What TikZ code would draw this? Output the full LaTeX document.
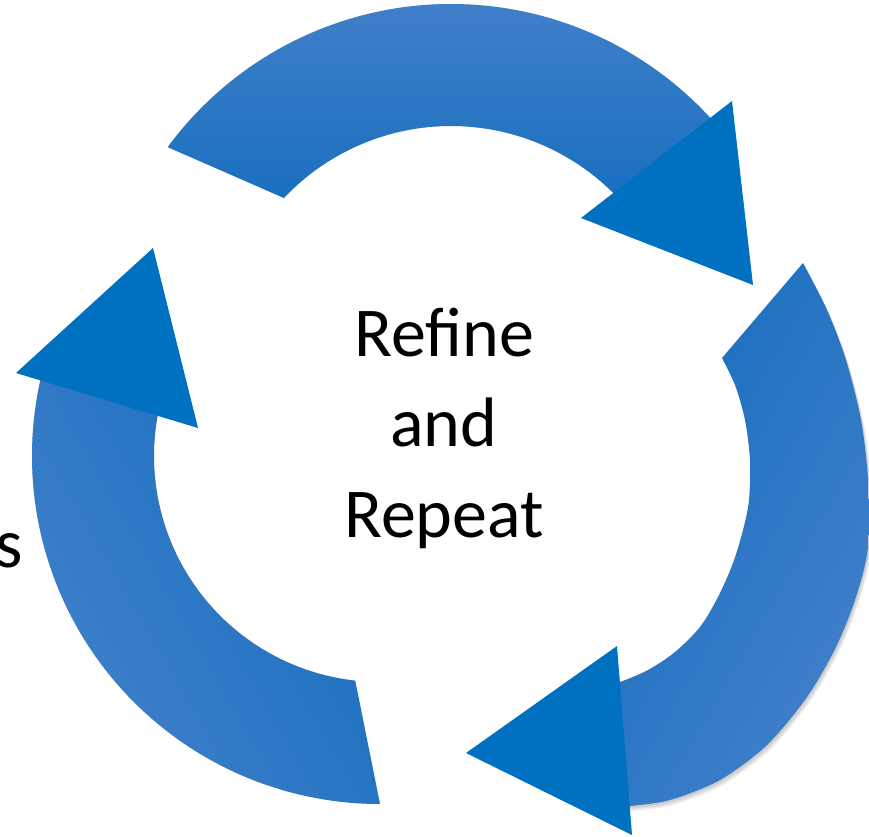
\documentclass[tikz,border=0pt]{standalone}
\usepackage{fontspec}
\setmainfont{Carlito}
\usetikzlibrary{calc}
\definecolor{bandlight}{RGB}{66,128,202}
\definecolor{banddark}{RGB}{22,110,190}
\definecolor{headblue}{RGB}{0,112,192}
\newcommand{\toparrowpath}{($(ct)+(143.6:352)$) arc[start angle=143.6, end angle=38, radius=352]
  -- ($(ct)+(38:230)$) arc[start angle=38, end angle=136.6, radius=230] -- cycle}
\newcommand{\rightarrowpath}{plot[smooth] coordinates {(803,573) (827,526) (846,476) (861,416) (868,356) (868,289) (856,239) (836,189) (807,139) (767,91) (720,56) (670,36) (630,30) (600,28)}
  -- plot[smooth] coordinates {(600,148) (620,154) (648,166) (675,184) (700,209) (718,239) (733,273) (743,306) (749,336) (750,376) (745,416) (735,451) (722,478)} -- cycle}
\newcommand{\leftarrowpath}{($(cl)+(270:348)$) arc[start angle=270, end angle=164, radius=348]
  -- ($(cl)+(164:226)$) arc[start angle=164, end angle=263.7, radius=226] -- cycle}
\begin{document}
\begin{tikzpicture}[x=1pt,y=1pt,
  band/.style={top color=bandlight, bottom color=banddark},
  head/.style={fill=headblue},
  shadowfill/.style={fill=black, fill opacity=0.07},
  label/.style={font=\fontsize{70}{84}\selectfont, inner sep=0pt, anchor=base}]
\useasboundingbox (0,0) rectangle (869,836);
\clip (0,0) rectangle (869,836);
\coordinate (ct) at (451,480);
\coordinate (cl) at (380,380);
% soft shadows
\foreach \dx/\dy in {1/-2, 2/-3.5, 3/-5} {
  \begin{scope}[shift={(\dx,\dy)}]
    \fill[shadowfill] \toparrowpath;
    \fill[shadowfill] \rightarrowpath;
    \fill[shadowfill] \leftarrowpath;
  \end{scope}
}
% top arrow
\path[band] \toparrowpath;
\fill[head] (732,735) -- (581,618) -- (753,551) -- cycle;
% right arrow
\path[band, shading angle=-120] \rightarrowpath;
\fill[head] (617,190) -- (466,83) -- (632,1) -- cycle;
% left arrow
\path[band, shading angle=120] \leftarrowpath;
\fill[head] (153,588) -- (16,463) -- (198,408) -- cycle;
% text
\node[label] (t1) at (444,479) {Refine};
\node[label] (t2) at (444,389) {and};
\node[label] (t3) at (444,299) {Repeat};
\node[label, anchor=base west] (s) at (-5,269) {s};
\end{tikzpicture}
\end{document}
